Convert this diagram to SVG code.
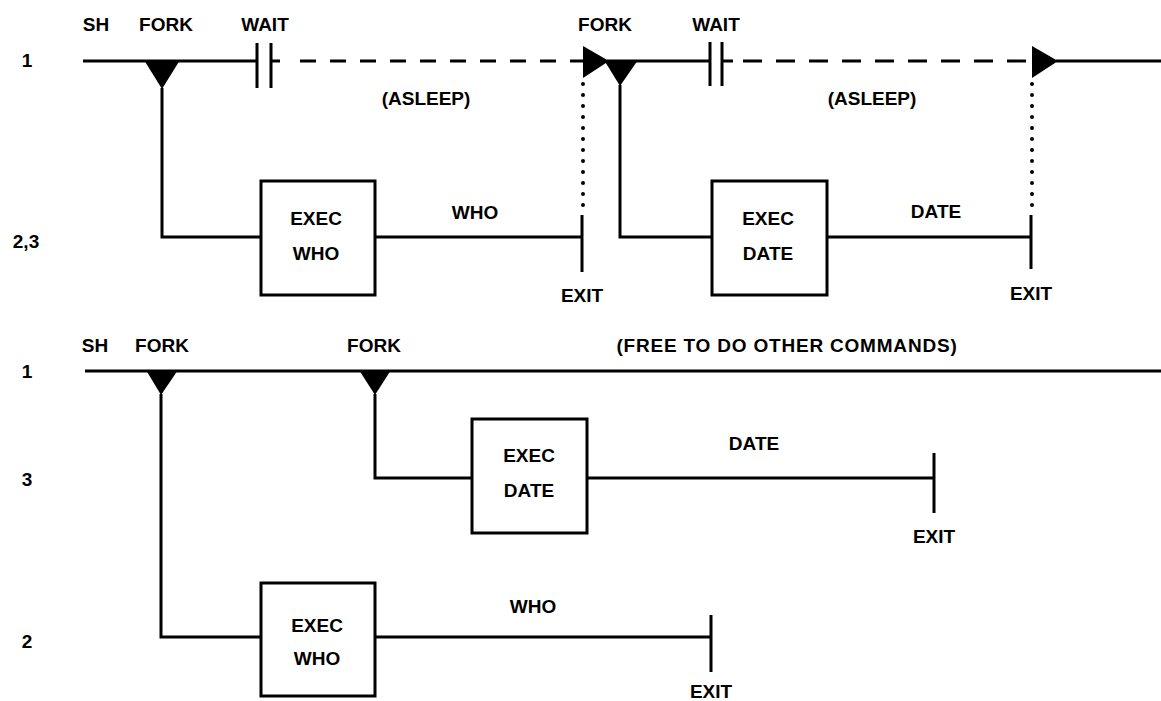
<svg xmlns="http://www.w3.org/2000/svg" width="1161" height="701" viewBox="0 0 1161 701">
<style>
text{font-family:"Liberation Sans",Arial,sans-serif;font-weight:bold;font-size:19px;fill:#000;text-anchor:middle}
.ln{stroke:#000;stroke-width:3;fill:none}
.dash1{stroke:#000;stroke-width:3;fill:none;stroke-dasharray:16 14}
.dash2{stroke:#000;stroke-width:3;fill:none;stroke-dasharray:19 14}
.dot{stroke:#000;stroke-width:4;fill:none;stroke-dasharray:0 11;stroke-linecap:round}
.box{stroke:#000;stroke-width:3;fill:#fff}
.tri{fill:#000}
</style>
<rect width="1161" height="701" fill="#fff"/>
<g id="labels">
<text x="27" y="67">1</text>
<text x="26" y="248">2,3</text>
<text x="27" y="378">1</text>
<text x="27" y="486">3</text>
<text x="27" y="648">2</text>
<text x="96" y="31">SH</text>
<text x="166" y="31">FORK</text>
<text x="265" y="31">WAIT</text>
<text x="605" y="31">FORK</text>
<text x="716" y="31">WAIT</text>
<text x="426" y="105">(ASLEEP)</text>
<text x="872" y="105">(ASLEEP)</text>
<text x="475" y="219">WHO</text>
<text x="936" y="218">DATE</text>
<text x="582" y="302">EXIT</text>
<text x="1031" y="300">EXIT</text>
<text x="95" y="352">SH</text>
<text x="162" y="352">FORK</text>
<text x="374" y="352">FORK</text>
<text x="787" y="352" letter-spacing="0.8">(FREE TO DO OTHER COMMANDS)</text>
<text x="754" y="450">DATE</text>
<text x="934" y="543">EXIT</text>
<text x="533" y="613">WHO</text>
<text x="711" y="698">EXIT</text>
</g>
<g id="connectors">
<!-- top timeline -->
<path class="ln" d="M83 61H257M257 43V88M271 43V88M271 61H280"/>
<path class="dash1" d="M300 61H583"/>
<polygon class="tri" points="583,46 583,78 609,61"/>
<path class="ln" d="M607 61H710M710 42V86M722 42V86M722 61H733"/>
<path class="dash2" d="M743 61H1032"/>
<polygon class="tri" points="1032,46 1032,78 1058,61"/>
<path class="ln" d="M1056 61H1161"/>
<polygon class="tri" points="144,60 180,60 162,89"/>
<polygon class="tri" points="604,60 638,60 620,86"/>
<path class="ln" d="M162 88V237H261M375 237H582M582 215V272"/>
<path class="ln" d="M620 85V237H712M827 237H1031M1031 215V269"/>
<path class="dot" d="M583 84V210"/>
<path class="dot" d="M1032 84V210"/>
<!-- bottom timeline -->
<path class="ln" d="M85 371H1161"/>
<polygon class="tri" points="146,370 178,370 161,395"/>
<polygon class="tri" points="359,370 391,370 375,395"/>
<path class="ln" d="M161 394V637H261M375 637H711M711 615V672"/>
<path class="ln" d="M375 394V478H472M587 478H934M934 453V513"/>
</g>
<g id="box-exec-who-1">
<rect class="box" x="261" y="181" width="114" height="114"/>
<text x="316" y="225">EXEC</text>
<text x="316" y="260">WHO</text>
</g>
<g id="box-exec-date-1">
<rect class="box" x="712" y="181" width="115" height="114"/>
<text x="768" y="225">EXEC</text>
<text x="768" y="260">DATE</text>
</g>
<g id="box-exec-date-2">
<rect class="box" x="472" y="419" width="115" height="114"/>
<text x="529" y="462">EXEC</text>
<text x="529" y="497">DATE</text>
</g>
<g id="box-exec-who-2">
<rect class="box" x="261" y="583" width="114" height="113"/>
<text x="317" y="632">EXEC</text>
<text x="317" y="665">WHO</text>
</g>
</svg>
